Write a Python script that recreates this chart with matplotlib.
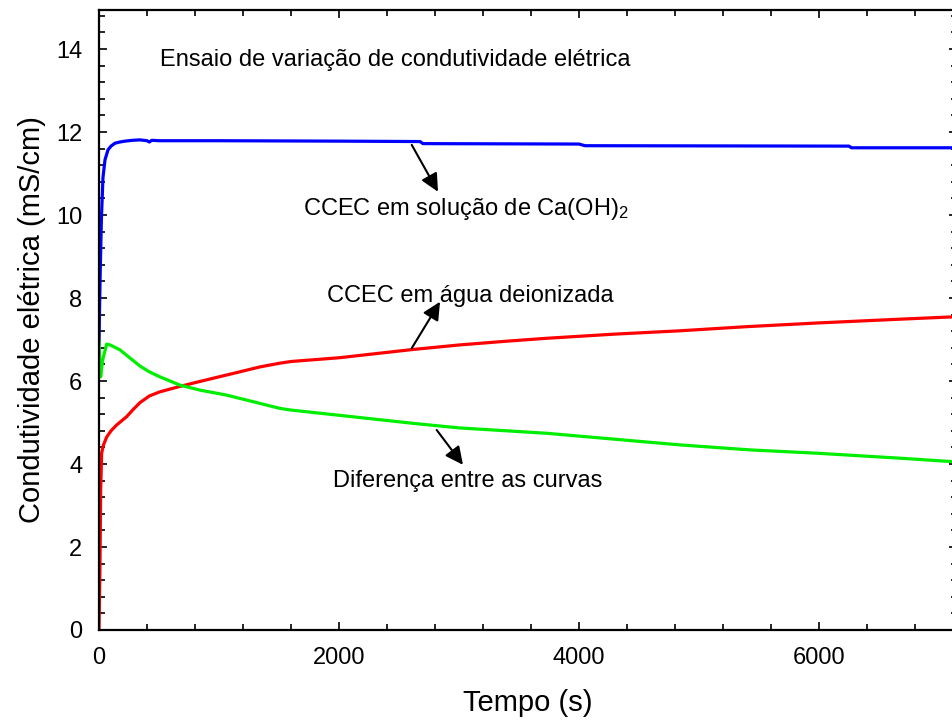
import numpy as np
import matplotlib
matplotlib.use("Agg")
import matplotlib.pyplot as plt
from matplotlib.ticker import MultipleLocator

plt.rcParams['font.family'] = ['Liberation Sans', 'DejaVu Sans']
plt.rcParams['mathtext.default'] = 'regular'

# ---- data ---------------------------------------------------------------
blue_t = [0, 5, 10, 20, 33, 50, 75, 100, 133, 175, 217, 280, 342, 400, 420,
          440, 500, 1000, 2000, 2675, 2700, 4000, 4050, 6250, 6270, 7150]
blue_y = [6.9, 7.8, 8.6, 9.9, 10.9, 11.33, 11.57, 11.66, 11.73, 11.76, 11.78,
          11.8, 11.81, 11.79, 11.76, 11.8, 11.79, 11.79, 11.78, 11.77, 11.72,
          11.71, 11.67, 11.66, 11.62, 11.62]

red_t = [0, 8, 14, 22, 36, 64, 100, 147, 230, 290, 342, 420, 508, 675, 842,
         1100, 1342, 1508, 1600, 2000, 2617, 3008, 3400, 3733, 4300, 4842,
         5400, 6000, 6600, 7150]
red_y = [0, 1.5, 3.37, 4.26, 4.45, 4.65, 4.8, 4.94, 5.14, 5.33, 5.48, 5.64,
         5.74, 5.87, 5.99, 6.17, 6.34, 6.43, 6.47, 6.56, 6.76, 6.87, 6.96,
         7.03, 7.13, 7.21, 7.31, 7.40, 7.48, 7.55]

green_t = [0, 8, 14, 30, 64, 92, 175, 260, 342, 420, 508, 675, 842, 1064,
           1342, 1508, 1600, 2617, 3000, 3733, 4842, 5425, 5983, 6675, 7150]
green_y = [6.95, 6.4, 6.1, 6.5, 6.89, 6.87, 6.75, 6.55, 6.36, 6.22, 6.10, 5.90,
           5.78, 5.66, 5.46, 5.34, 5.30, 4.98, 4.87, 4.74, 4.46, 4.34, 4.26,
           4.14, 4.05]

xlabel = 'Tempo (s)'
ylabel = 'Condutividade elétrica (mS/cm)'
title_txt = 'Ensaio de variação de condutividade elétrica'
lbl_blue = 'CCEC em solução de Ca(OH)$_2$'
lbl_red = 'CCEC em água deionizada'
lbl_green = 'Diferença entre as curvas'

# ---- figure -------------------------------------------------------------
fig = plt.figure(figsize=(9.52, 7.21), dpi=100)
ax = fig.add_axes([99/952, 91/721, 858/952, 620/721])

ax.plot(blue_t, blue_y, color='#0000ff', lw=2.3)
ax.plot(red_t, red_y, color='#ff0000', lw=2.3)
ax.plot(green_t, green_y, color='#00ee00', lw=2.3)

ax.set_xlim(0, 7150)
ax.set_ylim(0, 14.94)
ax.xaxis.set_major_locator(MultipleLocator(2000))
ax.xaxis.set_minor_locator(MultipleLocator(400))
ax.yaxis.set_major_locator(MultipleLocator(2))
ax.yaxis.set_minor_locator(MultipleLocator(0.4))
ax.tick_params(which='both', direction='in', top=True, right=True,
               width=1.2, labelsize=17, colors='black')
ax.tick_params(which='major', length=6, pad=12)
ax.tick_params(which='minor', length=4)
for s in ax.spines.values():
    s.set_linewidth(1.6)

ax.set_xlabel(xlabel, fontsize=21)
ax.set_ylabel(ylabel, fontsize=21)
ax.xaxis.set_label_coords(0.5, -0.095)
ax.yaxis.set_label_coords(-0.062, 0.5)

# ---- annotations --------------------------------------------------------
ax.text(508, 13.58, title_txt, fontsize=17, va='baseline', ha='left')
ax.text(1698, 10.0, lbl_blue, fontsize=17, va='baseline', ha='left')
ax.text(1898, 7.91, lbl_red, fontsize=17, va='baseline', ha='left')
ax.text(1950, 3.45, lbl_green, fontsize=17, va='baseline', ha='left')

arr = dict(arrowstyle='-|>,head_length=0.45,head_width=0.22', color='black',
           lw=1.5, mutation_scale=24, shrinkA=0, shrinkB=0)
ax.annotate('', xy=(2825, 10.56), xytext=(2606, 11.69), arrowprops=arr)
ax.annotate('', xy=(2842, 7.91), xytext=(2606, 6.79), arrowprops=arr)
ax.annotate('', xy=(3033, 3.98), xytext=(2814, 4.82), arrowprops=arr)

fig.savefig('out.png', dpi=100)
